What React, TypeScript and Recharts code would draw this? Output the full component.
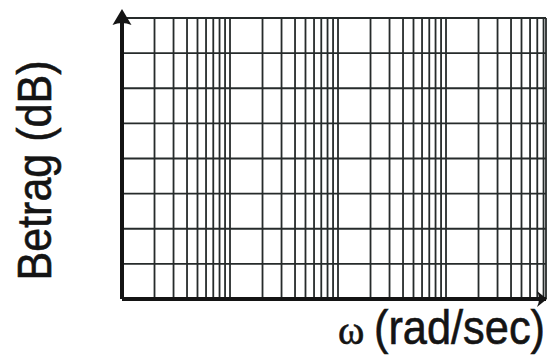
import { CartesianGrid, ComposedChart, Label, Line, XAxis, YAxis } from 'recharts';

// Semi-log paper: ω on a log axis (about four decades), magnitude in 8 equal steps
const omegaTicks = [
  1, 2, 3, 4, 5, 6, 7, 8, 9,
  10, 20, 30, 40, 50, 60, 70, 80, 90,
  100, 200, 300, 400, 500, 600, 700, 800, 900,
  1000, 2000, 3000, 4000, 5000, 6000, 7000, 8000,
];
const omegaMin = 1;
const omegaMax = 8430;
const gainTicks = [0, 1, 2, 3, 4, 5, 6, 7, 8];

// rows only carry the ω positions; the paper has no curve plotted on it
const rows = omegaTicks.map((omega) => ({ omega }));

const INK = '#141414';
const GRID = '#262b2b';

// ticks must stay "on" so the grid gets its lines, but nothing is drawn for them
const noTick = () => null;

function UpArrow({ viewBox }: any) {
  const cx = viewBox.x + viewBox.width;
  const cy = viewBox.y;
  return (
    <path
      d={`M${cx},${cy - 9} L${cx + 9.5},${cy + 7} Q${cx},${cy + 3} ${cx - 9.5},${cy + 7} Z`}
      fill={INK}
    />
  );
}

function RightArrow({ viewBox }: any) {
  const cx = viewBox.x + viewBox.width;
  const cy = viewBox.y;
  return (
    <path
      d={`M${cx + 1},${cy} L${cx - 9},${cy - 8} Q${cx - 5},${cy} ${cx - 9},${cy + 8} Z`}
      fill={INK}
    />
  );
}

function GainTitle({ viewBox }: any) {
  const x = viewBox.x - 70;
  const y = viewBox.y + viewBox.height / 2 + 12;
  return (
    <text
      x={x}
      y={y}
      transform={`rotate(-90, ${x}, ${y})`}
      textAnchor="middle"
      fontFamily="Liberation Sans, Arial, sans-serif"
      fontSize={49}
      textLength={220}
      lengthAdjust="spacingAndGlyphs"
      fill={INK}
      stroke={INK}
      strokeWidth={0.6}
    >
      Betrag (dB)
    </text>
  );
}

function OmegaTitle({ viewBox }: any) {
  const y = viewBox.y + 45;
  const right = viewBox.x + viewBox.width;
  return (
    <g fill={INK} stroke={INK} strokeWidth={0.6}>
      <text x={right - 208} y={y} fontFamily="Liberation Serif, serif" fontSize={40}>
        ω
      </text>
      <text
        x={right - 172}
        y={y}
        fontFamily="Liberation Sans, Arial, sans-serif"
        fontSize={48}
        textLength={171}
        lengthAdjust="spacingAndGlyphs"
      >
        (rad/sec)
      </text>
    </g>
  );
}

export default function App() {
  return (
    <div style={{ position: 'absolute', left: 0, top: 0, background: '#fff' }}>
      <ComposedChart
        width={547}
        height={356}
        data={rows}
        margin={{ top: 18, right: 1, bottom: 56, left: 121 }}
      >
        <CartesianGrid stroke={GRID} strokeWidth={1.8} />
        <XAxis
          dataKey="omega"
          type="number"
          scale="log"
          domain={[omegaMin, omegaMax]}
          ticks={omegaTicks}
          interval={0}
          allowDataOverflow
          height={1}
          tick={noTick}
          tickLine={false}
          axisLine={{ stroke: INK, strokeWidth: 4 }}
        >
          <Label content={<OmegaTitle />} />
          <Label content={<RightArrow />} />
        </XAxis>
        <YAxis
          type="number"
          domain={[0, 8]}
          ticks={gainTicks}
          interval={0}
          allowDataOverflow
          width={1}
          tick={noTick}
          tickLine={false}
          axisLine={{ stroke: INK, strokeWidth: 4 }}
        >
          <Label content={<GainTitle />} />
          <Label content={<UpArrow />} />
        </YAxis>
        <Line dataKey="gain" stroke="none" dot={false} isAnimationActive={false} />
      </ComposedChart>
    </div>
  );
}
